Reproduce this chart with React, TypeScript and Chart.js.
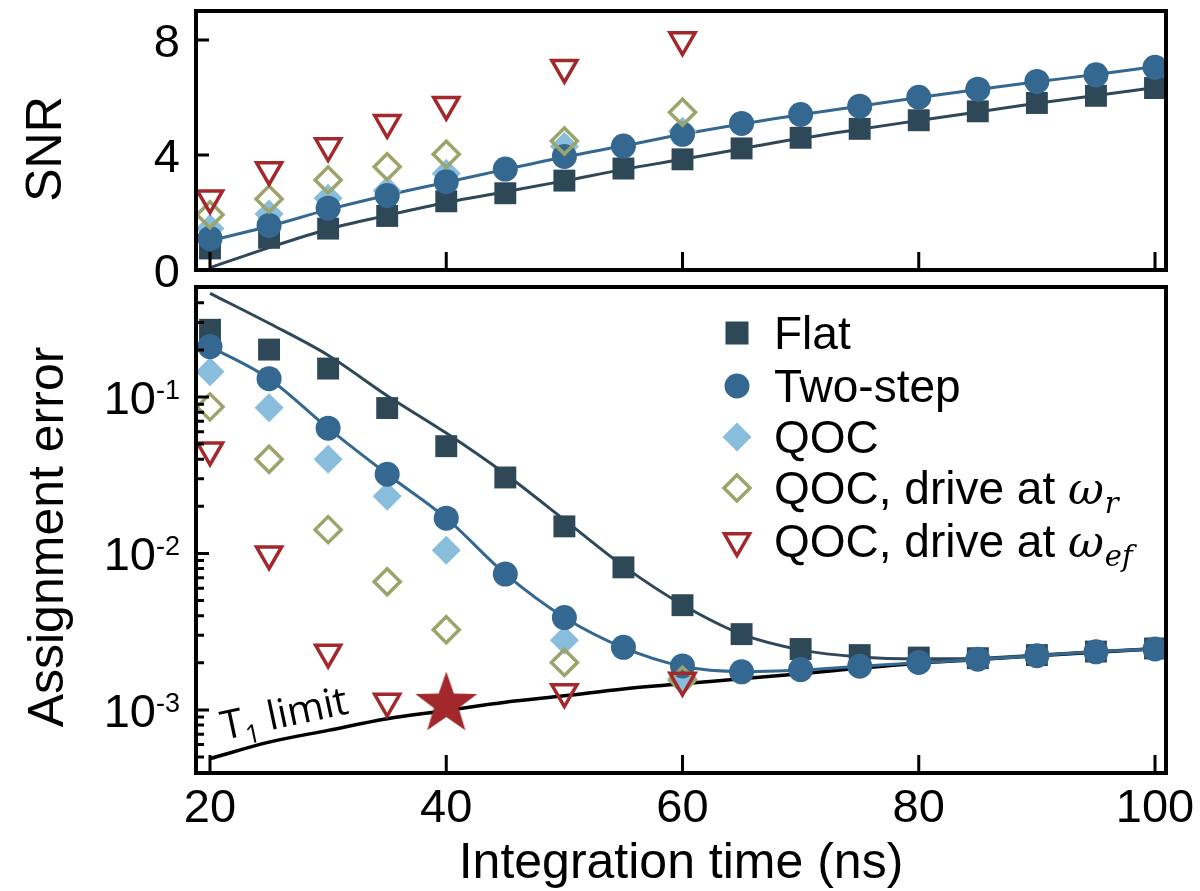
import React, { useEffect, useRef } from "react";
import { Chart, registerables } from "chart.js";

Chart.register(...registerables);

const FONT = '"Liberation Sans", Arial, Helvetica, sans-serif';

// ---------- data ----------
const times = [20, 25, 30, 35, 40, 45, 50, 55, 60, 65, 70, 75, 80, 85, 90, 95, 100];
const qocTimes = [20, 25, 30, 35, 40, 50, 60];
const efTimesError = [20, 25, 30, 35, 50, 60];
const starTimes = [40];

const xTicks = [20, 40, 60, 80, 100];
const snrTicks = [0, 4, 8];
const errorTickExponents = [-1, -2, -3];
const errorMinorTicks = [
  4e-4, 5e-4, 6e-4, 7e-4, 8e-4, 9e-4,
  2e-3, 3e-3, 4e-3, 5e-3, 6e-3, 7e-3, 8e-3, 9e-3,
  2e-2, 3e-2, 4e-2, 5e-2, 6e-2, 7e-2, 8e-2, 9e-2,
  2e-1, 3e-1, 4e-1,
];

// SNR (top panel)
const snrFlat = [0.75, 1.12, 1.44, 1.88, 2.39, 2.67, 3.11, 3.53, 3.85, 4.23, 4.6, 4.91, 5.21, 5.52, 5.81, 6.06, 6.33];
const snrTwoStep = [1.1, 1.55, 2.15, 2.59, 3.07, 3.51, 3.95, 4.31, 4.72, 5.1, 5.41, 5.7, 6.01, 6.29, 6.56, 6.79, 7.05];
const snrQOC = [1.44, 1.95, 2.5, 2.76, 3.36, 4.3, 4.83];
const snrQOCr = [1.92, 2.47, 3.13, 3.59, 4.03, 4.49, 5.49];
const snrQOCef = [2.5, 3.48, 4.31, 5.12, 5.75, 7.04, 8.0];
const snrFlatFit = [0.08, 0.78, 1.42, 1.9, 2.35, 2.72, 3.1, 3.5, 3.85, 4.22, 4.58, 4.9, 5.2, 5.5, 5.8, 6.07, 6.35];
const snrTwoStepFit = [1.02, 1.52, 2.1, 2.6, 3.05, 3.5, 3.93, 4.32, 4.72, 5.08, 5.4, 5.7, 6.0, 6.28, 6.55, 6.8, 7.08];

// Assignment error (bottom panel)
const errFlat = [0.269, 0.201, 0.152, 0.085, 0.0485, 0.0306, 0.0149, 0.00815, 0.00467, 0.00305, 0.00245, 0.00224, 0.00216, 0.00214, 0.00224, 0.00236, 0.00247];
const errTwoStep = [0.21, 0.131, 0.0632, 0.0321, 0.0168, 0.00738, 0.00389, 0.00251, 0.00191, 0.00175, 0.00181, 0.0019, 0.00201, 0.00211, 0.00222, 0.00235, 0.00245];
const errQOC = [0.145, 0.0853, 0.04, 0.0232, 0.0105, 0.00279, 0.0016];
const errQOCr = [0.0865, 0.04, 0.0142, 0.0066, 0.00325, 0.00201, 0.00155];
const errQOCef = [0.0457, 0.0099, 0.00233, 0.00113, 0.0013, 0.00154];
const errStar = [0.00109];
const errFlatFit = [0.46, 0.296, 0.185, 0.102, 0.0588, 0.0322, 0.0164, 0.0083, 0.0047, 0.00305, 0.00242, 0.00218, 0.00212, 0.00214, 0.00224, 0.00236, 0.00247];
const errTwoStepFit = [0.21, 0.131, 0.0632, 0.0321, 0.0168, 0.0074, 0.0039, 0.0025, 0.0019, 0.00176, 0.0018, 0.0019, 0.002, 0.0021, 0.00222, 0.00235, 0.00245];
const errT1 = [0.000488, 0.000622, 0.00074, 0.000877, 0.00099, 0.00112, 0.00123, 0.00136, 0.00147, 0.00158, 0.0017, 0.00185, 0.00199, 0.0021, 0.00222, 0.00234, 0.00246];

const legendLabels = ["Flat", "Two-step", "QOC", "QOC, drive at ", "QOC, drive at "];
const legendSubs = ["", "", "", "r", "ef"];

// ---------- styles ----------
const FLAT = "#2f4858";
const TWO = "#346890";
const QOC = "#88bddb";
const OLIVE = "#9ba56b";
const RED = "#a3282c";

const pts = (xs: number[], ys: number[]) => xs.map((x, i) => ({ x, y: ys[i] }));

const squareStyle = { pointStyle: "rect", pointRadius: 15.5, backgroundColor: FLAT, borderColor: FLAT, borderWidth: 0 };
const circleStyle = { pointStyle: "circle", pointRadius: 12.5, backgroundColor: TWO, borderColor: TWO, borderWidth: 0 };
const qocStyle = { pointStyle: "rectRot", pointRadius: 14.5, backgroundColor: QOC, borderColor: QOC, borderWidth: 0 };
const oliveStyle = { pointStyle: "rectRot", pointRadius: 13, backgroundColor: "rgba(0,0,0,0)", borderColor: OLIVE, borderWidth: 3.5 };
const redStyle = { pointStyle: "triangle", rotation: 180, pointRadius: 14.5, backgroundColor: "rgba(0,0,0,0)", borderColor: RED, borderWidth: 3.5 };

function markerSet(label: string, xs: number[], ys: number[], style: any, order: number) {
  return { label, data: pts(xs, ys), showLine: false, clip: false, order, pointHoverRadius: style.pointRadius, ...style };
}
function lineSet(label: string, xs: number[], ys: number[], color: string, order: number, width = 3) {
  return {
    label, data: pts(xs, ys), showLine: true, pointRadius: 0, pointHoverRadius: 0,
    borderColor: color, borderWidth: width, cubicInterpolationMode: "monotone", clip: false, order,
  };
}

function framePlugin(yMajor: number[], yMinor: number[]) {
  return {
    id: "frame",
    afterDatasetsDraw(chart: any) {
      const { ctx, chartArea: a } = chart;
      const xs = chart.scales.x;
      const ys = chart.scales.y;
      ctx.save();
      ctx.strokeStyle = "#000";
      ctx.lineWidth = 3;
      ctx.beginPath();
      xTicks.forEach((t) => {
        const p = xs.getPixelForValue(t);
        ctx.moveTo(p, a.bottom);
        ctx.lineTo(p, a.bottom - 18);
      });
      yMajor.forEach((v) => {
        const p = ys.getPixelForValue(v);
        ctx.moveTo(a.left, p);
        ctx.lineTo(a.left + 13, p);
      });
      yMinor.forEach((v) => {
        const p = ys.getPixelForValue(v);
        if (p > a.top + 2 && p < a.bottom - 2) {
          ctx.moveTo(a.left, p);
          ctx.lineTo(a.left + 8, p);
        }
      });
      ctx.stroke();
      ctx.lineWidth = 4;
      ctx.strokeRect(a.left, a.top, a.right - a.left, a.bottom - a.top);
      ctx.restore();
    },
  };
}

function drawVerticalTitle(ctx: CanvasRenderingContext2D, text: string, x: number, y: number) {
  ctx.save();
  ctx.translate(x, y);
  ctx.rotate(-Math.PI / 2);
  ctx.textAlign = "center";
  ctx.textBaseline = "alphabetic";
  ctx.font = `50px ${FONT}`;
  ctx.fillStyle = "#000";
  ctx.fillText(text, 0, 0);
  ctx.restore();
}

const topLabels = {
  id: "topLabels",
  afterDraw(chart: any) {
    const { ctx, chartArea: a } = chart;
    const ys = chart.scales.y;
    ctx.save();
    ctx.fillStyle = "#000";
    ctx.font = `47px ${FONT}`;
    ctx.textAlign = "right";
    ctx.textBaseline = "alphabetic";
    snrTicks.forEach((v) => {
      ctx.fillText(String(v), a.left - 16, ys.getPixelForValue(v) + 17);
    });
    ctx.restore();
    drawVerticalTitle(ctx, "SNR", 61, 149);
  },
};

const bottomLabels = {
  id: "bottomLabels",
  afterDraw(chart: any) {
    const { ctx, chartArea: a } = chart;
    const xs = chart.scales.x;
    const ys = chart.scales.y;
    ctx.save();
    ctx.fillStyle = "#000";
    ctx.textBaseline = "alphabetic";
    // log tick labels 10^n
    errorTickExponents.forEach((e) => {
      const p = ys.getPixelForValue(Math.pow(10, e));
      ctx.font = `27px ${FONT}`;
      ctx.textAlign = "right";
      const sup = String(e);
      const w = ctx.measureText(sup).width;
      ctx.fillText(sup, a.left - 16, p + 2);
      ctx.font = `47px ${FONT}`;
      ctx.fillText("10", a.left - 16 - w, p + 17);
    });
    // x tick labels
    ctx.font = `47px ${FONT}`;
    ctx.textAlign = "center";
    xTicks.forEach((t) => {
      ctx.fillText(String(t), xs.getPixelForValue(t), a.bottom + 49);
    });
    // x title
    ctx.font = `50px ${FONT}`;
    ctx.fillText("Integration time (ns)", (a.left + a.right) / 2, 598);
    ctx.restore();
    drawVerticalTitle(ctx, "Assignment error", 63, 257);

    // legend
    const rows = [53, 106, 157, 208, 261];
    const mx = 737;
    const tx = 774;
    ctx.save();
    rows.forEach((cy, i) => {
      ctx.beginPath();
      if (i === 0) {
        ctx.fillStyle = FLAT;
        ctx.fillRect(mx - 11.5, cy - 11.5, 23, 23);
      } else if (i === 1) {
        ctx.fillStyle = TWO;
        ctx.arc(mx, cy, 12.5, 0, Math.PI * 2);
        ctx.fill();
      } else if (i === 2) {
        ctx.fillStyle = QOC;
        ctx.moveTo(mx, cy - 14.5); ctx.lineTo(mx + 14.5, cy); ctx.lineTo(mx, cy + 14.5); ctx.lineTo(mx - 14.5, cy);
        ctx.closePath();
        ctx.fill();
      } else if (i === 3) {
        ctx.strokeStyle = OLIVE;
        ctx.lineWidth = 3.5;
        ctx.moveTo(mx, cy - 13); ctx.lineTo(mx + 13, cy); ctx.lineTo(mx, cy + 13); ctx.lineTo(mx - 13, cy);
        ctx.closePath();
        ctx.stroke();
      } else {
        ctx.strokeStyle = RED;
        ctx.lineWidth = 3.5;
        const r = 14.5;
        ctx.moveTo(mx, cy + r);
        ctx.lineTo(mx - r * Math.sin(Math.PI / 3), cy - r / 2);
        ctx.lineTo(mx + r * Math.sin(Math.PI / 3), cy - r / 2);
        ctx.closePath();
        ctx.stroke();
      }
      ctx.fillStyle = "#000";
      ctx.textAlign = "left";
      ctx.font = `46px ${FONT}`;
      ctx.fillText(legendLabels[i], tx, cy + 16);
      if (legendSubs[i]) {
        const w = ctx.measureText(legendLabels[i]).width;
        ctx.font = `italic 44px "DejaVu Serif", "Liberation Serif", serif`;
        ctx.fillText("\u03c9", tx + w, cy + 16);
        const w2 = ctx.measureText("\u03c9").width;
        ctx.font = `italic 29px "DejaVu Serif", "Liberation Serif", serif`;
        ctx.fillText(legendSubs[i], tx + w + w2 + 1, cy + 25);
      }
    });
    ctx.restore();

    // T1 limit annotation
    ctx.save();
    ctx.translate(224, 460);
    ctx.rotate((-12 * Math.PI) / 180);
    ctx.fillStyle = "#000";
    ctx.textAlign = "left";
    ctx.font = `40px "Open Sans", "Noto Sans", sans-serif`;
    ctx.fillText("T", 0, 0);
    let w = ctx.measureText("T").width;
    ctx.font = `26px "Open Sans", "Noto Sans", sans-serif`;
    ctx.fillText("1", w, 9);
    w += ctx.measureText("1").width;
    ctx.font = `40px "Open Sans", "Noto Sans", sans-serif`;
    ctx.fillText(" limit", w, 0);
    ctx.restore();
  },
};

const baseOptions = (yScale: any, padding: any) => ({
  responsive: false,
  animation: false as const,
  events: [] as any[],
  layout: { padding, autoPadding: false },
  plugins: { legend: { display: false }, tooltip: { enabled: false }, title: { display: false } },
  scales: {
    x: { type: "linear", min: 18.815, max: 100.93, display: false },
    y: yScale,
  },
});

export default function App() {
  const topRef = useRef<HTMLCanvasElement>(null);
  const botRef = useRef<HTMLCanvasElement>(null);

  useEffect(() => {
    const star = document.createElement("canvas");
    star.width = 70;
    star.height = 70;
    const sctx = star.getContext("2d")!;
    sctx.fillStyle = RED;
    sctx.beginPath();
    const R = 32.5;
    const r = 13;
    for (let k = 0; k < 10; k++) {
      const ang = -Math.PI / 2 + (k * Math.PI) / 5;
      const rad = k % 2 === 0 ? R : r;
      const px = 35 + rad * Math.cos(ang);
      const py = 35 + rad * Math.sin(ang);
      if (k === 0) sctx.moveTo(px, py);
      else sctx.lineTo(px, py);
    }
    sctx.closePath();
    sctx.fill();

    const top = new Chart(topRef.current!, {
      type: "scatter",
      data: {
        datasets: [
          lineSet("Flat fit", times, snrFlatFit, FLAT, 20),
          lineSet("Two-step fit", times, snrTwoStepFit, TWO, 19),
          markerSet("QOC", qocTimes, snrQOC, qocStyle, 6),
          markerSet("Flat", times, snrFlat, squareStyle, 5),
          markerSet("Two-step", times, snrTwoStep, circleStyle, 4),
          markerSet("QOC, drive at ωr", qocTimes, snrQOCr, oliveStyle, 3),
          markerSet("QOC, drive at ωef", qocTimes, snrQOCef, redStyle, 2),
        ] as any,
      },
      options: baseOptions(
        { type: "linear", min: 0, max: 9.01, display: false },
        { top: 11, left: 196, right: 34, bottom: 30 }
      ) as any,
      plugins: [framePlugin(snrTicks, []), topLabels],
    });

    const bot = new Chart(botRef.current!, {
      type: "scatter",
      data: {
        datasets: [
          lineSet("T1 limit", times, errT1, "#000", 21, 3.5),
          lineSet("Flat fit", times, errFlatFit, FLAT, 20),
          lineSet("Two-step fit", times, errTwoStepFit, TWO, 19),
          markerSet("QOC", qocTimes, errQOC, qocStyle, 6),
          markerSet("Flat", times, errFlat, squareStyle, 5),
          markerSet("Two-step", times, errTwoStep, circleStyle, 4),
          markerSet("QOC, drive at ωr", qocTimes, errQOCr, oliveStyle, 3),
          markerSet("QOC, drive at ωef", efTimesError, errQOCef, redStyle, 2),
          markerSet("Optimal", starTimes, errStar, { pointStyle: star, pointRadius: 32 }, 1),
        ] as any,
      },
      options: baseOptions(
        { type: "logarithmic", min: 3.95e-4, max: 0.505, display: false },
        { top: 7, left: 196, right: 34, bottom: 118 }
      ) as any,
      plugins: [framePlugin(errorTickExponents.map((e) => Math.pow(10, e)), errorMinorTicks), bottomLabels],
    });

    return () => {
      top.destroy();
      bot.destroy();
    };
  }, []);

  return (
    <div style={{ position: "fixed", left: 0, top: 0, width: 1200, height: 891, background: "#fff" }}>
      <canvas ref={topRef} width={1200} height={300} style={{ position: "absolute", left: 0, top: 0 }} />
      <canvas ref={botRef} width={1200} height={611} style={{ position: "absolute", left: 0, top: 280 }} />
    </div>
  );
}
